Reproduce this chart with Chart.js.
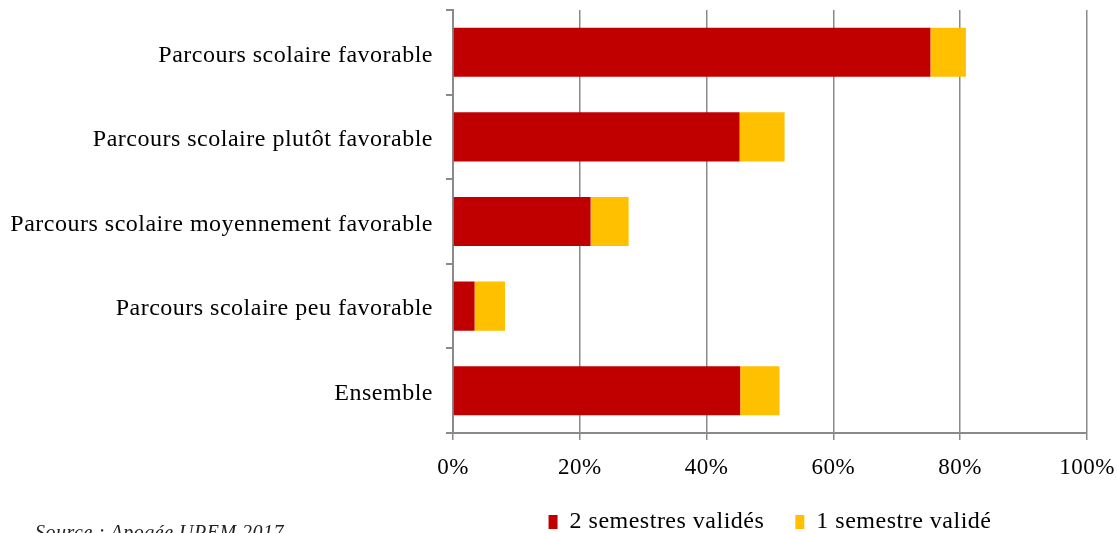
<!DOCTYPE html>
<html lang="fr">
<head>
  <meta charset="UTF-8" />
  <title>Parcours scolaire</title>
  <script src="https://cdn.jsdelivr.net/npm/chart.js"></script>
  <style>
    html, body {
      margin: 0;
      padding: 0;
      background: #fff;
      overflow: hidden;
    }
    .wrap {
      position: relative;
      width: 1117px;
      height: 544px;
    }
    #source {
      position: absolute;
      left: 35px;
      top: 521px;
      font-family: 'Liberation Serif', serif;
      font-style: italic;
      font-size: 20px;
      letter-spacing: 0.5px;
      color: #222;
      white-space: nowrap;
    }
  </style>
</head>
<body>
  <div class="wrap">
    <canvas id="chart"></canvas>
    <div id="source">Source : Apogée UPEM 2017</div>
  </div>

  <script>
    const categories = [
      "Parcours scolaire favorable",
      "Parcours scolaire plutôt favorable",
      "Parcours scolaire moyennement favorable",
      "Parcours scolaire peu favorable",
      "Ensemble"
    ];
    const deuxSemestres = [75.3, 45.2, 21.7, 3.4, 45.3];
    const unSemestre = [5.6, 7.1, 6.0, 4.8, 6.2];
    const xTicks = [0, 20, 40, 60, 80, 100];

    const gridColor = '#8a8a8a';
    const family = "'Liberation Serif', 'Times New Roman', serif";
    const font = { family: family, size: 24 };

    // the original text is set slightly wider than canvas default
    const letterSpacing = {
      id: 'letterSpacing',
      beforeLayout: chart => { chart.ctx.letterSpacing = '0.5px'; },
      beforeDraw: chart => { chart.ctx.letterSpacing = '0.5px'; }
    };

    new Chart(document.getElementById('chart'), {
      type: 'bar',
      data: {
        labels: categories,
        datasets: [{
          label: '2 semestres validés',
          data: deuxSemestres,
          backgroundColor: '#C00000',
          categoryPercentage: 1,
          barPercentage: 0.58
        }, {
          label: '1 semestre validé',
          data: unSemestre,
          backgroundColor: '#FFC000',
          categoryPercentage: 1,
          barPercentage: 0.58
        }]
      },
      options: {
        indexAxis: 'y',
        responsive: true,
        maintainAspectRatio: false,
        animation: false,
        layout: { padding: { top: 10, right: 30, left: 0, bottom: 0 } },
        scales: {
          x: {
            stacked: true,
            min: 0,
            max: 100,
            afterBuildTicks: scale => { scale.ticks = xTicks.map(v => ({ value: v })); },
            afterFit: scale => {
              scale.height = 46;
              scale.paddingLeft = 0;
              scale.paddingRight = 0;
            },
            ticks: {
              color: '#000',
              font: { family: family, size: 23 },
              padding: 14,
              callback: v => v + '%'
            },
            grid: { color: gridColor, lineWidth: 1.5, tickLength: 7 },
            border: { color: gridColor, width: 2 }
          },
          y: {
            stacked: true,
            afterFit: scale => {
              scale.width = 453;
              scale.paddingTop = 0;
              scale.paddingBottom = 0;
            },
            ticks: { color: '#000', font: font, padding: 13, labelOffset: 3 },
            grid: { drawOnChartArea: false, color: gridColor, lineWidth: 2, tickLength: 7 },
            border: { color: gridColor, width: 2 }
          }
        },
        plugins: {
          legend: {
            position: 'bottom',
            fullSize: false,
            labels: {
              color: '#000',
              font: font,
              boxWidth: 9,
              boxHeight: 14,
              padding: 31
            }
          },
          tooltip: { enabled: false }
        }
      },
      plugins: [letterSpacing]
    });
  </script>
</body>
</html>
